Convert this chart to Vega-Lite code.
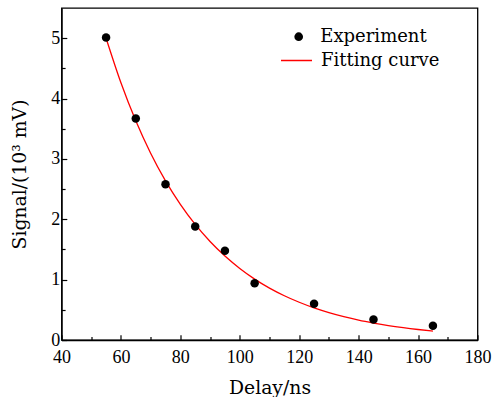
{
  "$schema": "https://vega.github.io/schema/vega-lite/v6.json",
  "width": 416,
  "height": 332,
  "autosize": "none",
  "padding": {"left": 61.5, "top": 8, "right": 15.5, "bottom": 57},
  "background": "white",
  "config": {
    "view": {"stroke": "black", "strokeWidth": 1.3},
    "axis": {
      "domainColor": "black",
      "domainWidth": 1.3,
      "tickColor": "black",
      "tickWidth": 1.2,
      "grid": false,
      "labelFont": "Liberation Serif",
      "labelFontSize": 18,
      "labelColor": "black",
      "titleFont": "DejaVu Serif",
      "titleFontSize": 18.8,
      "titleFontWeight": "normal",
      "titleColor": "black"
    },
    "legend": {"padding": 0}
  },
  "datasets": {
    "experiment": [
      {"delay": 55, "signal": 5.01, "series": "Experiment"},
      {"delay": 65, "signal": 3.67, "series": "Experiment"},
      {"delay": 75, "signal": 2.58, "series": "Experiment"},
      {"delay": 85, "signal": 1.88, "series": "Experiment"},
      {"delay": 95, "signal": 1.48, "series": "Experiment"},
      {"delay": 105, "signal": 0.94, "series": "Experiment"},
      {"delay": 125, "signal": 0.6, "series": "Experiment"},
      {"delay": 145, "signal": 0.34, "series": "Experiment"},
      {"delay": 165, "signal": 0.235, "series": "Experiment"}
    ],
    "fit": [
      {"delay": 55, "signal": 5.0, "series": "Fitting curve"},
      {"delay": 60, "signal": 4.261, "series": "Fitting curve"},
      {"delay": 65, "signal": 3.631, "series": "Fitting curve"},
      {"delay": 70, "signal": 3.094, "series": "Fitting curve"},
      {"delay": 75, "signal": 2.636, "series": "Fitting curve"},
      {"delay": 80, "signal": 2.247, "series": "Fitting curve"},
      {"delay": 85, "signal": 1.914, "series": "Fitting curve"},
      {"delay": 90, "signal": 1.631, "series": "Fitting curve"},
      {"delay": 95, "signal": 1.39, "series": "Fitting curve"},
      {"delay": 100, "signal": 1.185, "series": "Fitting curve"},
      {"delay": 105, "signal": 1.009, "series": "Fitting curve"},
      {"delay": 110, "signal": 0.86, "series": "Fitting curve"},
      {"delay": 115, "signal": 0.733, "series": "Fitting curve"},
      {"delay": 120, "signal": 0.625, "series": "Fitting curve"},
      {"delay": 125, "signal": 0.532, "series": "Fitting curve"},
      {"delay": 130, "signal": 0.454, "series": "Fitting curve"},
      {"delay": 135, "signal": 0.387, "series": "Fitting curve"},
      {"delay": 140, "signal": 0.329, "series": "Fitting curve"},
      {"delay": 145, "signal": 0.281, "series": "Fitting curve"},
      {"delay": 150, "signal": 0.239, "series": "Fitting curve"},
      {"delay": 155, "signal": 0.204, "series": "Fitting curve"},
      {"delay": 160, "signal": 0.174, "series": "Fitting curve"},
      {"delay": 165, "signal": 0.148, "series": "Fitting curve"}
    ]
  },
  "encoding": {
    "x": {
      "field": "delay",
      "type": "quantitative",
      "scale": {"domain": [40, 180], "nice": false, "zero": false},
      "axis": {
        "title": "Delay/ns",
        "values": [40, 50, 60, 70, 80, 90, 100, 110, 120, 130, 140, 150, 160, 170, 180],
        "format": "d",
        "labelExpr": "datum.value % 20 === 0 ? datum.label : ''",
        "tickSize": {"condition": {"test": "datum.value % 20 === 0", "value": -5.3}, "value": -3.6},
        "labelPadding": 14,
        "labelFlush": false,
        "titleBaseline": "alphabetic",
        "titleY": 53.2
      }
    },
    "y": {
      "field": "signal",
      "type": "quantitative",
      "scale": {"domain": [0, 5.5], "nice": false},
      "axis": {
        "title": "Signal/(10³ mV)",
        "values": [0, 0.5, 1, 1.5, 2, 2.5, 3, 3.5, 4, 4.5, 5],
        "format": "~r",
        "labelExpr": "datum.value % 1 === 0 ? datum.label : ''",
        "tickSize": {"condition": {"test": "datum.value % 1 === 0", "value": -5.3}, "value": -3.6},
        "labelPadding": 7,
        "labelFlush": false,
        "titleBaseline": "alphabetic",
        "titleX": -36.5,
        "titleY": 166
      }
    }
  },
  "layer": [
    {
      "data": {"name": "fit"},
      "mark": {"type": "line", "strokeWidth": 1.3, "interpolate": "monotone"},
      "encoding": {
        "stroke": {
          "field": "series",
          "type": "nominal",
          "scale": {"domain": ["Fitting curve"], "range": ["#ff0000"]},
          "legend": {
            "orient": "none",
            "legendX": 218.5,
            "legendY": 36,
            "title": null,
            "symbolType": "stroke",
            "symbolSize": 961,
            "symbolStrokeWidth": 1.5,
            "labelOffset": 8,
            "labelFont": "DejaVu Serif",
            "labelFontSize": 18,
            "labelColor": "black"
          }
        }
      }
    },
    {
      "data": {"name": "experiment"},
      "mark": {"type": "point", "filled": true, "size": 72, "opacity": 1},
      "encoding": {
        "fill": {
          "field": "series",
          "type": "nominal",
          "scale": {"domain": ["Experiment"], "range": ["black"]},
          "legend": {
            "orient": "none",
            "legendX": 228.2,
            "legendY": 19.7,
            "title": null,
            "symbolType": "circle",
            "symbolSize": 75,
            "symbolStrokeWidth": 0,
            "labelOffset": 12.6,
            "labelFont": "DejaVu Serif",
            "labelFontSize": 18,
            "labelColor": "black"
          }
        }
      }
    }
  ]
}
